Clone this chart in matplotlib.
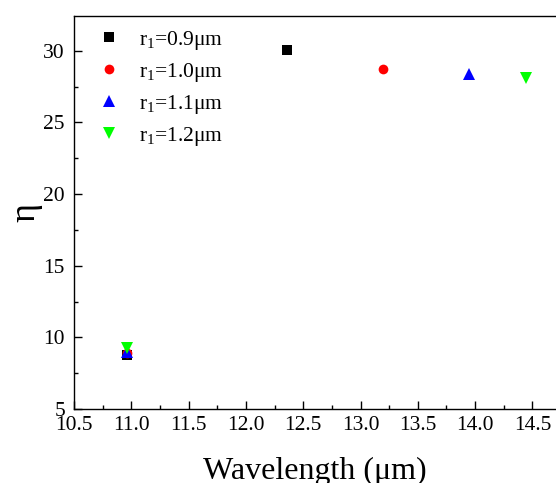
import matplotlib
matplotlib.use("Agg")
import matplotlib.pyplot as plt
from matplotlib.ticker import MultipleLocator

plt.rcParams["font.family"] = ["Liberation Serif", "DejaVu Serif"]
plt.rcParams["mathtext.fontset"] = "custom"
plt.rcParams["mathtext.rm"] = "Liberation Serif"
plt.rcParams["mathtext.it"] = "Liberation Serif:italic"

# Resonance wavelength (um) and eta for each inner radius r1
labels = [r"r$_1$=0.9μm", r"r$_1$=1.0μm", r"r$_1$=1.1μm", r"r$_1$=1.2μm"]
wavelength = [
    [10.96, 12.36],
    [10.96, 13.20],
    [10.96, 13.95],
    [10.96, 14.44],
]
eta = [
    [8.8, 30.05],
    [8.9, 28.7],
    [9.0, 28.35],
    [9.25, 28.1],
]
markers = ["s", "o", "^", "v"]
colors = ["black", "red", "blue", "#00ff00"]
sizes = [7, 7, 8, 8]

fig = plt.figure(figsize=(5.56, 4.83), dpi=100)
ax = fig.add_axes([74 / 556, 74 / 483, 515.7 / 556, 393 / 483])

for x, y, m, c, s, lab in zip(wavelength, eta, markers, colors, sizes, labels):
    ax.plot(x, y, linestyle="none", marker=m, color=c, markersize=s,
            markeredgewidth=0, label=lab)

ax.set_xlim(10.5, 15.0)
ax.set_ylim(5, 32.42)
ax.xaxis.set_major_locator(MultipleLocator(0.5))
ax.xaxis.set_minor_locator(MultipleLocator(0.25))
ax.yaxis.set_major_locator(MultipleLocator(5))
ax.yaxis.set_minor_locator(MultipleLocator(2.5))
ax.set_xticks([10.5, 11.0, 11.5, 12.0, 12.5, 13.0, 13.5, 14.0, 14.5])
ax.set_xticklabels(["10.5", "11.0", "11.5", "12.0", "12.5", "13.0", "13.5", "14.0", "14.5"])
ax.tick_params(which="major", direction="in", length=5.5, width=1, labelsize=15.5, pad=5,
               top=False, right=False)
ax.tick_params(axis="y", which="major", pad=6.5)
ax.tick_params(which="minor", direction="in", length=3, width=1, top=False, right=False)
for sp in ax.spines.values():
    sp.set_linewidth(1)

ax.set_xlabel("Wavelength (μm)", fontsize=23)
ax.xaxis.set_label_coords((315 - 74) / 515.7, -48 / 393)
ax.set_ylabel("η", fontsize=26)
ax.yaxis.set_label_coords(-32 / 515.7, 0.5)

ax.legend(loc="upper left", bbox_to_anchor=(0.03, 0.99), frameon=False,
          fontsize=15.5, handletextpad=0.9, labelspacing=0.42, handlelength=1.0,
          borderaxespad=0)

fig.savefig("out.png", dpi=100)
